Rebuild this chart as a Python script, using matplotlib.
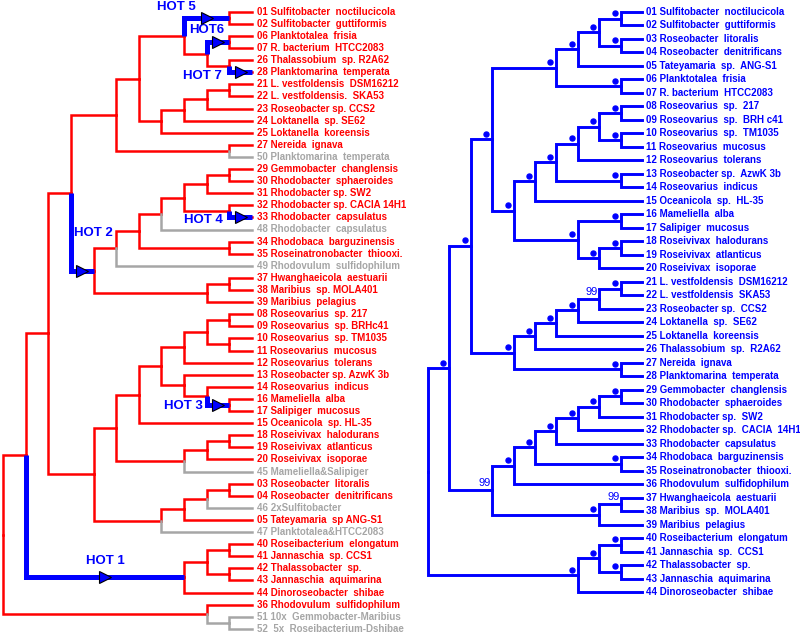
import matplotlib.pyplot as plt
from matplotlib.transforms import offset_copy

# ---------------- data ----------------
# left tree (cladogram of leaf codes), clade by clade
l_upper = (((("01", "02"), (("06", "07"), ("26", "28"))),
            (((("21", "22"), "23"), "24"), "25")), ("27", "50"))
l_rhodob = (((((("29", "30"), "31"), ("32", "33")), "48"), ("34", "35")), "49")
l_maribi = (l_rhodob, (("37", "38"), "39"))
l_roseov = (((((("08", "09"), ("10", "11")), "12"), ("13", ("14", ("16", "17")))), "15"),
            ((("18", "19"), "20"), "45"))
l_roseob = (((("03", "04"), "46"), "05"), "47")
l_jannas = ((("40", "41"), ("42", "43")), "44")
left_tree = ((((l_upper, l_maribi), (l_roseov, l_roseob)), l_jannas), ("36", ("51", "52")))

left_names = {
    "01": "Sulfitobacter  noctilucicola", "02": "Sulfitobacter  guttiformis",
    "06": "Planktotalea  frisia", "07": "R. bacterium  HTCC2083",
    "26": "Thalassobium  sp. R2A62", "28": "Planktomarina  temperata",
    "21": "L. vestfoldensis  DSM16212", "22": "L. vestfoldensis.  SKA53",
    "23": "Roseobacter sp. CCS2", "24": "Loktanella  sp. SE62",
    "25": "Loktanella  koreensis", "27": "Nereida  ignava",
    "50": "Planktomarina  temperata", "29": "Gemmobacter  changlensis",
    "30": "Rhodobacter  sphaeroides", "31": "Rhodobacter sp. SW2",
    "32": "Rhodobacter sp. CACIA 14H1", "33": "Rhodobacter  capsulatus",
    "48": "Rhodobacter  capsulatus", "34": "Rhodobaca  barguzinensis",
    "35": "Roseinatronobacter  thiooxi.", "49": "Rhodovulum  sulfidophilum",
    "37": "Hwanghaeicola  aestuarii", "38": "Maribius  sp. MOLA401",
    "39": "Maribius  pelagius", "08": "Roseovarius  sp. 217",
    "09": "Roseovarius  sp. BRHc41", "10": "Roseovarius  sp. TM1035",
    "11": "Roseovarius  mucosus", "12": "Roseovarius  tolerans",
    "13": "Roseobacter sp. AzwK 3b", "14": "Roseovarius  indicus",
    "16": "Mameliella  alba", "17": "Salipiger  mucosus",
    "15": "Oceanicola  sp. HL-35", "18": "Roseivivax  halodurans",
    "19": "Roseivivax  atlanticus", "20": "Roseivivax  isoporae",
    "45": "Mameliella&Salipiger", "03": "Roseobacter  litoralis",
    "04": "Roseobacter  denitrificans", "46": "2xSulfitobacter",
    "05": "Tateyamaria  sp ANG-S1", "47": "Planktotalea&HTCC2083",
    "40": "Roseibacterium  elongatum", "41": "Jannaschia  sp. CCS1",
    "42": "Thalassobacter  sp.", "43": "Jannaschia  aquimarina",
    "44": "Dinoroseobacter  shibae", "36": "Rhodovulum  sulfidophilum",
    "51": "10x  Gemmobacter-Maribius", "52": " 5x  Roseibacterium-Dshibae",
}
left_grey = ["50", "48", "49", "45", "46", "47", "51", "52"]

# HOT branches: clade given by its first and last leaf
hot_names = ["HOT 1", "HOT 2", "HOT 3", "HOT 4", "HOT 5", "HOT6", "HOT 7"]
hot_clades = [("40", "44"), ("29", "39"), ("16", "17"), ("33", "33"),
              ("01", "02"), ("06", "07"), ("28", "28")]

# right tree
r_sulfito = (((("01", "02"), ("03", "04")), "05"), ("06", "07"))
r_roseov = (((((("08", "09"), ("10", "11")), "12"), ("13", "14")), "15"),
            (("16", "17"), (("18", "19"), "20")))
r_loktan = (((((("21", "22"), "23"), "24"), "25"), "26"), ("27", "28"))
r_rhodob = ((((((("29", "30"), "31"), "32"), "33"), ("34", "35")), "36"),
            (("37", "38"), "39"))
r_jannas = ((("40", "41"), ("42", "43")), "44")
right_tree = ((((r_sulfito, r_roseov), r_loktan), r_rhodob), r_jannas)

right_names = {
    "01": "Sulfitobacter  noctilucicola", "02": "Sulfitobacter  guttiformis",
    "03": "Roseobacter  litoralis", "04": "Roseobacter  denitrificans",
    "05": "Tateyamaria  sp.  ANG-S1", "06": "Planktotalea  frisia",
    "07": "R. bacterium  HTCC2083", "08": "Roseovarius  sp.  217",
    "09": "Roseovarius  sp.  BRH c41", "10": "Roseovarius  sp.  TM1035",
    "11": "Roseovarius  mucosus", "12": "Roseovarius  tolerans",
    "13": "Roseobacter sp.  AzwK 3b", "14": "Roseovarius  indicus",
    "15": "Oceanicola  sp.  HL-35", "16": "Mameliella  alba",
    "17": "Salipiger  mucosus", "18": "Roseivivax  halodurans",
    "19": "Roseivivax  atlanticus", "20": "Roseivivax  isoporae",
    "21": "L. vestfoldensis  DSM16212", "22": "L. vestfoldensis  SKA53",
    "23": "Roseobacter sp.  CCS2", "24": "Loktanella  sp.  SE62",
    "25": "Loktanella  koreensis", "26": "Thalassobium  sp.  R2A62",
    "27": "Nereida  ignava", "28": "Planktomarina  temperata",
    "29": "Gemmobacter  changlensis", "30": "Rhodobacter  sphaeroides",
    "31": "Rhodobacter sp.  SW2", "32": "Rhodobacter sp.  CACIA  14H1",
    "33": "Rhodobacter  capsulatus", "34": "Rhodobaca  barguzinensis",
    "35": "Roseinatronobacter  thiooxi.", "36": "Rhodovulum  sulfidophilum",
    "37": "Hwanghaeicola  aestuarii", "38": "Maribius  sp.  MOLA401",
    "39": "Maribius  pelagius", "40": "Roseibacterium  elongatum",
    "41": "Jannaschia  sp.  CCS1", "42": "Thalassobacter  sp.",
    "43": "Jannaschia  aquimarina", "44": "Dinoroseobacter  shibae",
}
# nodes labelled 99 instead of a dot
support_99 = [("21", "23"), ("37", "38"), ("29", "39")]

# ---------------- style ----------------
RED = '#ff0000'
GREY = '#a6a6a6'
BLUE = '#0000ff'
# label offset of each HOT name from its arrow, in pixels
hot_offsets = {"HOT 1": (1, 16), "HOT 2": (11, 38), "HOT 3": (-35, -1),
               "HOT 4": (-37, -3), "HOT 5": (-30, 11), "HOT6": (-11, 12),
               "HOT 7": (-38, -4)}

plt.rcParams['font.family'] = ['Liberation Sans', 'DejaVu Sans']


def layout(node, leaves):
    if isinstance(node, str):
        leaves.append(node)
        return {'y': len(leaves) - 1, 'h': 0, 'kids': [], 'leaves': [node]}
    kids = [layout(k, leaves) for k in node]
    return {'y': (kids[0]['y'] + kids[-1]['y']) / 2,
            'h': max(k['h'] for k in kids) + 1, 'kids': kids,
            'leaves': sum((k['leaves'] for k in kids), [])}


def walk(node):
    yield node
    for k in node['kids']:
        yield from walk(k)


fig = plt.figure(figsize=(8, 6.34), dpi=100)
ax_l = fig.add_axes([0, 0, 0.5, 1])
ax_r = fig.add_axes([0.5, 0, 0.5, 1])

# ---- left tree ----
leaves = []
root = layout(left_tree, leaves)
hot_of = {c: n for c, n in zip(hot_clades, hot_names)}
for node in walk(root):
    xp = -node['h']
    for k in node['kids']:
        xk = -k['h']
        grey = all(l in left_grey for l in k['leaves'])
        ax_l.plot([xp, xp, xk], [node['y'], k['y'], k['y']],
                  color=GREY if grey else RED, lw=1.8,
                  solid_joinstyle='miter', solid_capstyle='projecting')
        name = hot_of.get((k['leaves'][0], k['leaves'][-1]))
        if name:
            ax_l.plot([xp, xp, xk], [node['y'], k['y'], k['y']], color=BLUE,
                      lw=3.6, solid_joinstyle='miter', solid_capstyle='butt',
                      zorder=3)
            xm = (xp + xk) / 2
            ax_l.plot(xm, k['y'], marker='>', ms=8.5, mfc=BLUE, mec='black',
                      mew=0.8, zorder=4)
            ax_l.annotate(name, (xm, k['y']), xytext=hot_offsets[name],
                          textcoords='offset pixels', ha='center', va='center',
                          color=BLUE, fontsize=9.5, fontweight='bold')

for i, code in enumerate(leaves):
    ax_l.annotate(f"{code} {left_names[code]}", (0, i), xytext=(5, 0),
                  textcoords='offset pixels', ha='left', va='center',
                  fontsize=7, fontweight='bold',
                  color=GREY if code in left_grey else RED)

ax_l.set_xlim(-252 / 22.64, 148 / 22.64)
ax_l.set_ylim((634 - 11.7) / 12.1, -11.7 / 12.1)
ax_l.axis('off')

# ---- right tree ----
leaves = []
root = layout(right_tree, leaves)
dot_tr = offset_copy(ax_r.transData, fig=fig, x=-6, y=5.5, units='dots')
for node in walk(root):
    xp = -node['h']
    for k in node['kids']:
        ax_r.plot([xp, xp, -k['h']], [node['y'], k['y'], k['y']], color=BLUE,
                  lw=2.1, solid_joinstyle='miter', solid_capstyle='projecting')
    if not node['kids'] or node is root:
        continue
    if (node['leaves'][0], node['leaves'][-1]) in support_99:
        ax_r.annotate('99', (xp, node['y']), xytext=(-1, 2),
                      textcoords='offset pixels', ha='right', va='bottom',
                      color=BLUE, fontsize=8)
    else:
        ax_r.plot(xp, node['y'], 'o', ms=3.6, color=BLUE, transform=dot_tr)

for i, code in enumerate(leaves):
    ax_r.annotate(f"{code} {right_names[code]}", (0, i), xytext=(4, 0),
                  textcoords='offset pixels', ha='left', va='center',
                  fontsize=7, fontweight='bold', color=BLUE)

ax_r.set_xlim(-242 / 21.4, 158 / 21.4)
ax_r.set_ylim((634 - 12) / 13.49, -12 / 13.49)
ax_r.axis('off')

fig.savefig('out.png', dpi=100, facecolor='white')
